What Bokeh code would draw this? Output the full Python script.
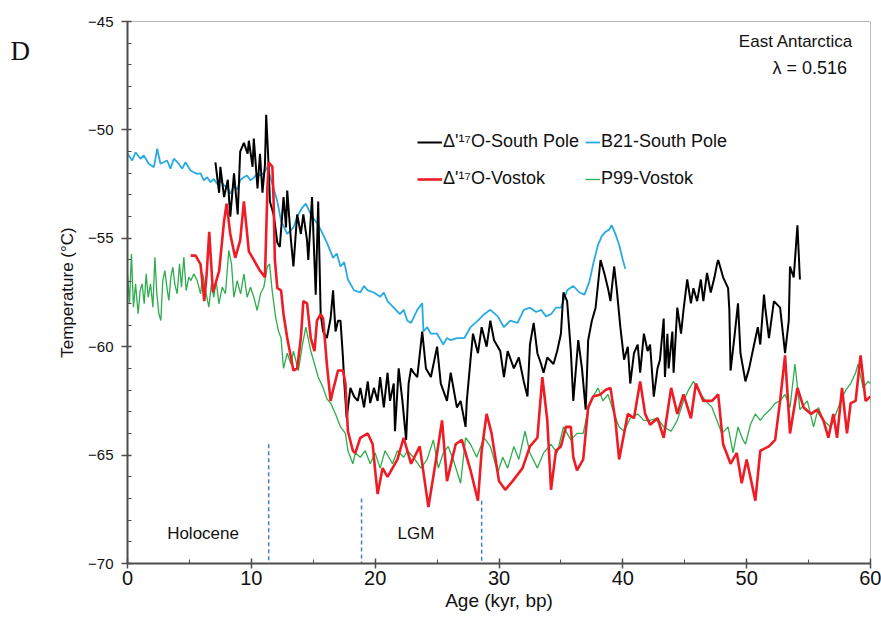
from bokeh.plotting import figure
from bokeh.models import Range1d, FixedTicker, Legend, LegendItem, Label
from bokeh.core.properties import value
from bokeh.embed import file_html
from bokeh.resources import INLINE

# ---- B21 South Pole reconstruction (age kyr BP, temperature degC) ----
b21_age = [0.0, 0.38, 0.65, 1.05, 1.32, 1.72, 2.13, 2.40, 2.66, 2.93, 3.20, 3.47, 3.74, 4.14,
           4.42, 4.68, 5.09, 5.36, 5.63, 5.90, 6.16, 6.43, 6.70, 6.97, 7.24, 7.50, 7.78, 8.05,
           8.32, 8.58, 8.86, 9.13, 9.40, 9.66, 9.93, 10.20, 10.47, 10.74, 11.00, 11.30, 11.70,
           12.10, 12.40, 12.90, 13.40, 13.70, 14.10, 14.40, 14.80, 15.30, 15.60, 16.10, 16.60,
           16.90, 17.20, 17.50, 17.80, 18.30, 18.80, 19.10, 19.40, 19.90, 20.40, 20.70, 21.00,
           21.50, 22.00, 22.30, 22.60, 22.90, 23.40, 23.80, 23.90, 24.20, 24.50, 25.00, 25.50,
           25.80, 26.10, 26.60, 27.20, 27.70, 28.30, 28.80, 29.30, 29.90, 30.40, 30.90, 31.50,
           32.00, 32.50, 33.00, 33.40, 33.80, 34.20, 34.60, 35.00, 35.50, 36.00, 36.50, 36.90,
           37.30, 37.60, 38.00, 38.30, 38.60, 38.90, 39.10, 39.40, 39.70, 40.00, 40.20]
b21_temp = [-51.10, -51.41, -51.03, -51.33, -51.18, -51.56, -51.72, -50.87, -51.56, -51.49,
            -51.41, -51.79, -51.33, -51.56, -51.79, -51.49, -51.87, -51.95, -52.03, -52.00,
            -52.33, -52.18, -52.41, -52.26, -52.49, -52.33, -52.56, -52.64, -52.95, -52.60,
            -52.75, -52.30, -52.18, -52.10, -52.33, -52.20, -52.03, -52.10, -52.00, -51.70,
            -52.50, -53.30, -54.20, -54.80, -54.50, -54.00, -53.60, -53.40, -53.90, -54.30,
            -54.60, -55.20, -55.90, -55.70, -56.30, -56.10, -56.90, -57.40, -57.50, -57.20,
            -57.40, -57.50, -57.70, -57.50, -57.90, -58.20, -58.50, -58.30, -58.80, -58.90,
            -58.30, -58.00, -59.30, -59.10, -59.40, -59.40, -59.90, -59.60, -59.70, -59.60,
            -59.60, -59.10, -58.80, -58.50, -58.30, -58.60, -59.10, -58.80, -58.90, -58.30,
            -58.20, -58.40, -58.30, -58.60, -58.50, -58.20, -58.20, -57.40, -57.20, -57.50,
            -57.60, -57.00, -56.20, -55.30, -54.90, -54.70, -54.60, -54.40, -54.80, -55.30,
            -56.00, -56.40]

# ---- Delta'17O South Pole ----
sp_age = [7.1, 7.4, 7.5, 7.8, 8.1, 8.3, 8.6, 8.9, 9.1, 9.4, 9.7, 9.8, 10.1, 10.2, 10.5, 10.7,
          10.9, 11.1, 11.2, 11.4, 11.5, 11.8, 12.1, 12.3, 12.6, 12.8, 12.9, 13.2, 13.4, 13.7,
          14.0, 14.2, 14.5, 14.6, 14.9, 15.2, 15.4, 15.6, 15.8, 16.1, 16.4, 16.6, 16.8, 17.0,
          17.2, 17.4, 17.5, 17.7, 18.0, 18.3, 18.6, 18.8, 19.1, 19.4, 19.6, 19.9, 20.2, 20.4,
          20.7, 21.0, 21.2, 21.5, 21.6, 21.9, 22.2, 22.5, 22.7, 22.9, 23.1, 23.4, 23.8, 24.1,
          24.5, 25.0, 25.3, 25.8, 26.1, 26.6, 26.9, 27.3, 27.4, 27.7, 27.9, 28.3, 28.6, 29.0,
          29.3, 29.6, 30.1, 30.4, 30.7, 31.2, 31.6, 32.0, 32.3, 32.5, 32.8, 33.1, 33.4, 33.6,
          33.9, 34.4, 34.7, 35.0, 35.2, 35.5, 35.8, 36.0, 36.4, 36.7, 37.0, 37.2, 37.5, 37.8,
          38.2, 38.5, 38.8, 39.0, 39.3, 39.5, 39.8, 40.1, 40.4, 40.6, 40.9, 41.2, 41.4, 41.7,
          42.0, 42.2, 42.5, 42.8, 43.0, 43.3, 43.4, 43.6, 43.7, 44.0, 44.1, 44.4, 44.7, 44.9,
          45.2, 45.5, 45.7, 46.0, 46.3, 46.5, 46.8, 47.1, 47.4, 47.6, 47.7, 48.1, 48.5, 48.6,
          48.7, 49.0, 49.3, 49.5, 49.9, 50.2, 50.6, 50.9, 51.1, 51.4, 51.5, 51.8, 52.2, 52.7,
          53.1, 53.4, 53.5, 53.8, 54.1, 54.3]
sp_temp = [-51.5, -52.9, -51.7, -53.1, -52.3, -54.0, -52.0, -53.9, -51.0, -50.6, -51.1, -50.5,
           -51.7, -50.4, -52.7, -51.1, -52.9, -51.6, -49.3, -51.7, -53.3, -53.9, -55.2, -55.4,
           -53.1, -54.5, -52.8, -55.1, -56.3, -53.9, -54.8, -53.9, -55.1, -56.0, -53.1, -57.6,
           -53.3, -58.5, -59.3, -59.6, -58.7, -57.4, -59.3, -58.8, -58.8, -60.5, -61.6, -63.3,
           -61.9, -62.3, -62.5, -61.9, -62.8, -61.6, -62.6, -61.9, -62.5, -61.4, -62.8, -61.2,
           -62.5, -61.7, -63.9, -61.0, -62.5, -64.3, -61.7, -61.0, -61.2, -61.4, -59.3, -61.0,
           -61.4, -60.0, -61.7, -62.5, -61.2, -62.8, -62.5, -63.7, -62.5, -60.6, -59.4, -60.3,
           -59.1, -60.0, -58.8, -59.7, -60.2, -61.4, -60.2, -61.0, -60.5, -61.6, -62.3, -59.9,
           -58.9, -60.3, -60.8, -61.2, -60.5, -60.8, -60.2, -59.4, -57.5, -57.9, -60.2, -62.5,
           -59.7, -61.0, -62.9, -59.7, -58.8, -58.2, -56.0, -56.6, -57.3, -57.9, -56.3, -57.3,
           -59.1, -60.6, -60.0, -61.7, -60.3, -59.9, -61.2, -59.4, -60.2, -59.9, -62.3, -61.0,
           -60.6, -58.7, -61.4, -59.4, -61.0, -59.3, -61.2, -58.2, -59.4, -58.3, -56.9, -58.0,
           -57.3, -57.9, -56.9, -57.9, -56.6, -57.5, -56.8, -56.2, -56.0, -56.8, -57.3, -58.3,
           -61.1, -59.6, -58.0, -60.3, -61.6, -61.0, -59.9, -59.1, -59.9, -57.6, -58.2, -59.6,
           -57.9, -58.2, -60.3, -58.8, -56.3, -56.8, -54.4, -56.9]

# ---- Delta'17O Vostok ----
vk_age = [5.1, 5.5, 5.9, 6.2, 6.4, 6.6, 6.9, 7.4, 7.8, 8.0, 8.3, 8.7, 9.1, 9.4, 9.8, 10.2, 10.7,
          11.1, 11.3, 11.4, 11.7, 11.8, 11.9, 12.1, 12.4, 12.6, 12.9, 13.2, 13.4, 13.7, 14.0,
          14.2, 14.5, 14.8, 15.1, 15.3, 15.6, 15.8, 16.1, 16.4, 16.6, 17.0, 17.4, 17.6, 17.8,
          18.2, 18.4, 18.8, 19.4, 19.8, 20.0, 20.2, 20.6, 21.0, 21.8, 22.3, 22.9, 23.6, 24.3,
          25.0, 25.4, 25.8, 26.5, 27.0, 27.7, 28.3, 28.6, 29.0, 29.4, 30.0, 30.5, 31.1, 31.9,
          32.5, 33.1, 33.5, 33.9, 34.2, 34.6, 35.0, 35.4, 35.8, 36.0, 36.3, 36.8, 37.2, 37.6,
          38.2, 38.6, 39.0, 39.4, 39.7, 40.1, 40.4, 40.9, 41.4, 41.8, 42.2, 42.8, 43.3, 43.9,
          44.4, 44.9, 45.5, 45.9, 46.5, 47.2, 47.7, 48.1, 48.7, 49.2, 49.6, 50.0, 50.7, 51.1,
          51.8, 52.3, 52.7, 53.1, 53.5, 54.1, 54.6, 55.2, 55.7, 56.2, 56.6, 57.0, 57.3, 57.7,
          58.1, 58.4, 58.8, 59.2, 59.6, 60.0]
vk_temp = [-55.8, -55.8, -56.2, -57.9, -56.6, -54.7, -57.5, -56.5, -54.2, -53.4, -54.8, -55.9,
           -55.1, -53.3, -55.6, -56.0, -56.5, -56.8, -52.7, -51.5, -51.7, -53.3, -56.0, -57.3,
           -57.4, -58.5, -59.6, -60.5, -61.1, -61.0, -59.6, -57.9, -58.0, -59.6, -60.2, -58.8,
           -58.5, -58.7, -60.8, -62.5, -62.0, -61.1, -61.1, -61.7, -63.9, -64.8, -64.9, -64.2,
           -64.0, -64.5, -65.7, -66.8, -65.6, -66.0, -65.2, -64.2, -65.4, -64.6, -67.4, -64.9,
           -63.4, -66.2, -64.5, -64.3, -65.7, -67.1, -64.8, -63.1, -64.0, -66.2, -66.6, -66.2,
           -65.6, -64.6, -64.2, -61.4, -63.4, -66.6, -64.8, -64.6, -63.7, -63.7, -65.1, -65.7,
           -65.2, -62.8, -62.3, -62.2, -62.0, -61.9, -63.4, -65.2, -64.0, -63.1, -63.3, -61.6,
           -63.1, -63.6, -63.3, -64.2, -61.9, -63.1, -62.2, -63.3, -61.7, -62.5, -62.5, -62.2,
           -64.5, -65.4, -64.9, -66.3, -65.2, -67.1, -64.8, -64.6, -64.3, -62.5, -60.4, -64.0,
           -61.9, -62.8, -63.1, -62.9, -63.4, -64.2, -63.1, -64.2, -61.9, -64.0, -62.6, -62.5,
           -60.4, -62.5, -62.3]

# ---- P99 Vostok ----
p99_age = [0.00, 0.16, 0.32, 0.48, 0.65, 0.86, 1.02, 1.18, 1.35, 1.51, 1.67, 1.86, 2.05, 2.21,
           2.37, 2.53, 2.69, 2.85, 3.02, 3.18, 3.34, 3.50, 3.66, 3.82, 4.01, 4.20, 4.36, 4.55,
           4.74, 4.95, 5.12, 5.36, 5.63, 5.90, 6.08, 6.30, 6.57, 6.78, 6.97, 7.16, 7.38, 7.65,
           7.91, 8.18, 8.40, 8.59, 8.86, 9.13, 9.40, 9.66, 9.93, 10.20, 10.47, 10.74, 11.01,
           11.28, 11.47, 11.68, 11.95, 12.20, 12.40, 12.60, 12.90, 13.20, 13.40, 13.80, 14.10,
           14.40, 14.80, 15.10, 15.40, 15.80, 16.10, 16.40, 16.80, 17.20, 17.60, 17.80, 18.20,
           18.40, 18.80, 19.20, 19.60, 20.00, 20.40, 20.80, 21.40, 21.80, 22.30, 22.60, 23.10,
           23.70, 24.20, 24.70, 25.10, 25.50, 25.90, 26.30, 26.90, 27.30, 27.70, 28.20, 28.80,
           29.30, 29.90, 30.30, 30.70, 31.20, 31.60, 32.10, 32.50, 33.10, 33.60, 34.20, 34.70,
           35.20, 35.80, 36.30, 36.80, 37.20, 37.60, 38.00, 38.40, 38.80, 39.30, 39.70, 40.10,
           40.60, 41.20, 41.70, 42.20, 42.80, 43.30, 43.90, 44.40, 44.90, 45.30, 45.70, 46.30,
           46.70, 47.20, 47.60, 48.00, 48.50, 48.90, 49.30, 49.70, 49.90, 50.30, 50.70, 51.10,
           51.50, 51.90, 52.30, 52.70, 53.10, 53.50, 53.90, 54.30, 54.90, 55.40, 55.80, 56.20,
           56.80, 57.20, 57.60, 58.00, 58.40, 58.80, 59.00, 59.40, 59.80, 60.00]
p99_temp = [-56.64, -58.02, -55.72, -58.18, -57.10, -58.48, -57.41, -57.10, -58.02, -56.64,
            -57.72, -57.10, -58.18, -55.87, -57.56, -58.48, -58.79, -56.95, -56.49, -57.25,
            -57.87, -56.79, -56.33, -57.10, -57.56, -56.18, -57.25, -55.87, -57.41, -56.79,
            -56.95, -56.64, -56.95, -57.56, -56.64, -57.41, -58.18, -57.10, -57.72, -56.95,
            -58.02, -57.25, -57.56, -55.56, -56.18, -57.72, -56.95, -57.56, -56.64, -57.72,
            -57.25, -57.72, -58.33, -57.56, -57.25, -56.33, -56.18, -57.40, -58.60, -59.30,
            -59.60, -61.00, -60.30, -60.80, -60.20, -61.10, -60.00, -59.10, -60.20, -60.80,
            -61.40, -61.90, -62.40, -62.60, -63.10, -63.70, -64.00, -64.80, -65.40, -64.90,
            -65.10, -64.80, -65.40, -64.90, -65.60, -64.80, -65.40, -64.80, -65.10, -64.80,
            -65.10, -65.60, -65.20, -64.30, -65.60, -64.90, -64.60, -65.20, -66.30, -64.20,
            -64.50, -65.10, -64.20, -64.60, -65.80, -65.10, -65.60, -64.60, -65.20, -63.90,
            -64.90, -65.60, -64.90, -64.50, -64.90, -63.70, -64.30, -64.00, -64.00, -62.90,
            -62.30, -61.90, -62.50, -62.20, -63.10, -63.70, -63.90, -63.30, -63.10, -63.40,
            -63.40, -63.30, -63.70, -63.90, -63.40, -62.50, -62.00, -61.60, -62.20, -62.50,
            -62.80, -63.40, -64.00, -63.70, -64.90, -63.70, -64.30, -64.50, -63.60, -63.10,
            -63.40, -63.10, -62.90, -62.60, -62.50, -62.20, -62.80, -60.80, -62.90, -62.50,
            -63.70, -62.80, -63.40, -63.70, -63.10, -62.50, -62.00, -61.70, -61.20, -60.80,
            -61.90, -61.60, -61.70]

# Period boundaries (age) and the top of each dashed marker
boundary_age = [11.4, 18.9, 28.6]
boundary_top = [-64.5, -67.0, -67.1]
boundary_bottom = [-70.0, -70.0, -70.0]

period_names = ["Holocene", "LGM"]
period_x = [6.1, 23.3]
period_y = [-68.6, -68.6]

x_major = [0, 10, 20, 30, 40, 50, 60]
x_minor = [5, 15, 25, 35, 45, 55]
y_major = [-70, -65, -60, -55, -50, -45]
y_minor = [-69, -68, -67, -66, -64, -63, -62, -61, -59, -58, -57, -56, -54, -53, -52, -51,
           -49, -48, -47, -46]

FONT = "Liberation Sans"
AXIS_GREY = "#4d4d4d"

p = figure(width=881, height=619, x_range=Range1d(0, 60), y_range=Range1d(-70, -45),
           output_backend="svg", toolbar_location=None,
           min_border_left=127, min_border_right=11, min_border_top=21, min_border_bottom=56)
p.background_fill_color = "white"
p.border_fill_color = "white"
p.outline_line_color = "#b8b8b8"
p.outline_line_width = 1
p.xgrid.visible = False
p.ygrid.visible = False

p.xaxis.ticker = FixedTicker(ticks=x_major, minor_ticks=x_minor)
p.yaxis.ticker = FixedTicker(ticks=y_major, minor_ticks=y_minor)

for ax in (p.xaxis[0], p.yaxis[0]):
    ax.axis_line_color = AXIS_GREY
    ax.axis_line_width = 2
    ax.major_tick_line_color = AXIS_GREY
    ax.major_tick_line_width = 1.5
    ax.minor_tick_line_color = AXIS_GREY
    ax.minor_tick_line_width = 1
    ax.major_label_text_color = "#111111"
    ax.axis_label_text_color = "#111111"
    ax.axis_label_text_font_style = "normal"

p.xaxis.major_tick_in = 5
p.xaxis.major_tick_out = 5
p.xaxis.minor_tick_in = 4
p.xaxis.minor_tick_out = 0
p.xaxis.major_label_text_font = FONT
p.xaxis.major_label_text_font_size = "20px"
p.xaxis.major_label_standoff = 2
p.xaxis.axis_label = "Age (kyr, bp)"
p.xaxis.axis_label_text_font = FONT
p.xaxis.axis_label_text_font_size = "19px"
p.xaxis.axis_label_standoff = 2

p.yaxis.major_tick_in = 4
p.yaxis.major_tick_out = 6
p.yaxis.minor_tick_in = 4
p.yaxis.minor_tick_out = 0
p.yaxis.major_label_text_font = FONT
p.yaxis.major_label_text_font_size = "15px"
p.yaxis.major_label_standoff = 8
p.yaxis.axis_label = "Temperature (°C)"
p.yaxis.axis_label_text_font = FONT
p.yaxis.axis_label_text_font_size = "17px"
p.yaxis.axis_label_standoff = 8

# Series
r_b21 = p.line(b21_age, b21_temp, line_color="#29abe2", line_width=1.8)
r_sp = p.line(sp_age, sp_temp, line_color="#000000", line_width=2)
r_p99 = p.line(p99_age, p99_temp, line_color="#2fad4e", line_width=1.3)
r_vk = p.line(vk_age, vk_temp, line_color="#ee1c24", line_width=2.6)

# Period boundary markers and names
p.segment(x0=boundary_age, y0=boundary_top, x1=boundary_age, y1=boundary_bottom,
          line_color="#3f7fc4", line_width=1.5, line_dash="4 3")
p.text(x=period_x, y=period_y, text=period_names, text_align="center",
       text_baseline="middle", text_font=value(FONT), text_font_size="17px",
       text_color="#111111")

# Legends (two columns)
legend_style = dict(label_text_font=FONT, label_text_font_size="18px",
                    label_text_color="#111111", glyph_height=20, label_height=20,
                    label_standoff=1, spacing=16, padding=0, margin=0,
                    border_line_alpha=0, background_fill_alpha=0)
leg1 = Legend(items=[LegendItem(label="Δ'¹⁷O-South Pole", renderers=[r_sp]),
                     LegendItem(label="Δ'¹⁷O-Vostok", renderers=[r_vk])],
              location=(290, 374), glyph_width=25, **legend_style)
leg2 = Legend(items=[LegendItem(label="B21-South Pole", renderers=[r_b21]),
                     LegendItem(label="P99-Vostok", renderers=[r_p99])],
              location=(458, 374), glyph_width=15, **legend_style)
p.add_layout(leg1)
p.add_layout(leg2)

# Region / parameter annotations
p.add_layout(Label(x=58.6, y=-45.9, text="East Antarctica", text_align="right",
                   text_baseline="middle", text_font=FONT, text_font_size="17px",
                   text_color="#111111"))
p.add_layout(Label(x=58.1, y=-47.15, text="λ = 0.516", text_align="right",
                   text_baseline="middle", text_font=FONT, text_font_size="18px",
                   text_color="#111111"))

# Panel letter, placed in the left side panel so it is not clipped by the frame
p.add_layout(Label(x=-26, y=513, x_units="screen", y_units="screen", text="D",
                   text_align="left", text_baseline="middle", text_font="Liberation Serif",
                   text_font_size="27px", text_color="#111111"), "left")

open("out.html", "w").write(file_html(p, INLINE))
